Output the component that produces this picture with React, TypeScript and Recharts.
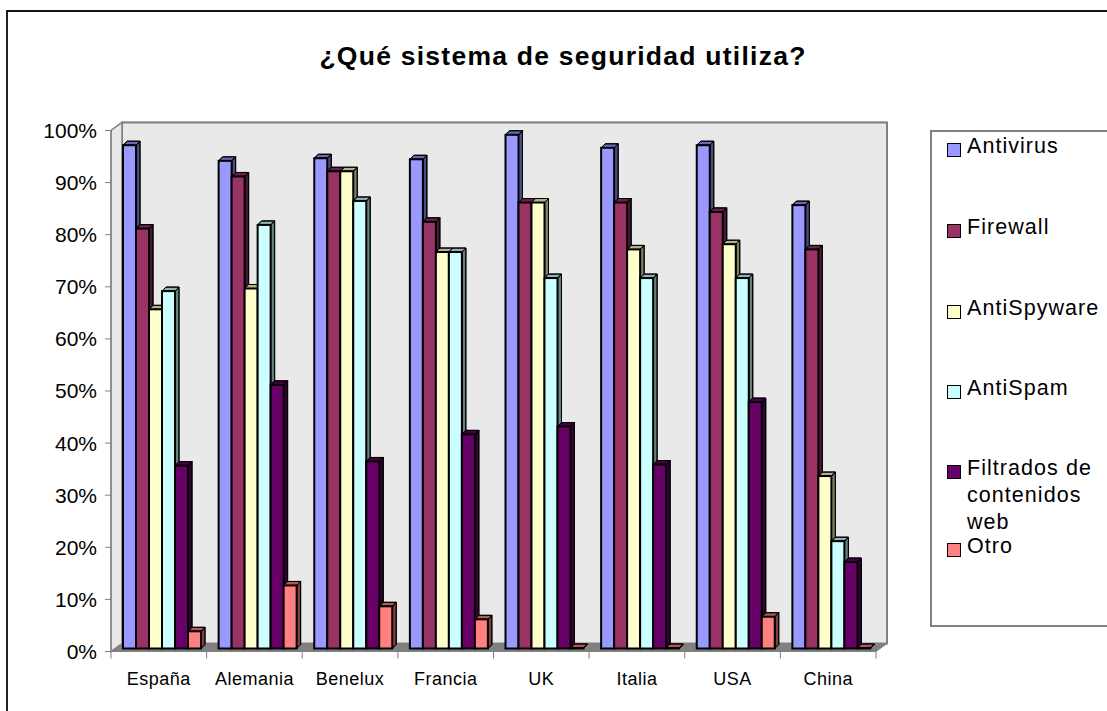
import { BarChart, Bar, XAxis, YAxis, CartesianGrid, ReferenceArea } from "recharts"

const categories = ["España", "Alemania", "Benelux", "Francia", "UK", "Italia", "USA", "China"]
const antivirus = [96.6, 93.6, 94.1, 93.9, 98.6, 96.1, 96.6, 85.1]
const firewall = [80.6, 90.6, 91.6, 81.9, 85.6, 85.6, 83.8, 76.6]
const antiSpyware = [65.1, 69.1, 91.6, 76.1, 85.6, 76.6, 77.6, 33.1]
const antiSpam = [68.6, 81.3, 85.9, 76.1, 71.1, 71.1, 71.1, 20.6]
const filtrados = [35.1, 50.6, 35.9, 41.1, 42.6, 35.3, 47.3, 16.6]
const otro = [3.3, 12.1, 8.1, 5.6, 0.1, 0.1, 6.1, 0.1]
const yTicks = [0, 10, 20, 30, 40, 50, 60, 70, 80, 90, 100]

const series = [
  { key: "antivirus", name: "Antivirus", color: "#9999FF", values: antivirus },
  { key: "firewall", name: "Firewall", color: "#993366", values: firewall },
  { key: "antiSpyware", name: "AntiSpyware", color: "#FFFFCC", values: antiSpyware },
  { key: "antiSpam", name: "AntiSpam", color: "#CCFFFF", values: antiSpam },
  { key: "filtrados", name: "Filtrados de contenidos web", color: "#660066", values: filtrados },
  { key: "otro", name: "Otro", color: "#FF8080", values: otro },
]

const rows = categories.map((name, i) => {
  const row: Record<string, string | number> = { name }
  series.forEach((s) => { row[s.key] = s.values[i] })
  return row
})

const FONT = "'Liberation Sans', Arial, sans-serif"
const WIDTH = 1107
const HEIGHT = 711
const PLOT_LEFT = 111
const PLOT_RIGHT = 876
const PLOT_TOP = 130.5
const PLOT_BOTTOM = 651.5
const BAND = (PLOT_RIGHT - PLOT_LEFT) / categories.length
const WALL_X = 11 // profundidad de la pared del fondo
const WALL_Y = 8
const CAP = 4 // profundidad de cada barra
const GRAY = "#808080"

// pared, lateral y suelo del falso 3D
function Walls(props: any) {
  const { x, y, width, height } = props
  const b = y + height
  const r = x + width
  return (
    <g>
      <rect x={x + WALL_X} y={y - WALL_Y} width={width} height={height} fill="#E9E9E9" stroke={GRAY} strokeWidth={2} />
      <polygon points={`${x},${y} ${x + WALL_X},${y - WALL_Y} ${x + WALL_X},${b - WALL_Y} ${x},${b}`} fill="#E9E9E9" stroke={GRAY} strokeWidth={1.5} />
      <polygon points={`${x},${b} ${x + WALL_X},${b - WALL_Y} ${r + WALL_X},${b - WALL_Y} ${r},${b}`} fill={GRAY} stroke={GRAY} />
    </g>
  )
}

function GridLine(props: any) {
  const { x1, x2, y1, y2 } = props
  if (y1 >= PLOT_BOTTOM - 1) return <g />
  return (
    <g stroke={GRAY} strokeWidth={1.3}>
      <line x1={x1} y1={y1} x2={x1 + WALL_X} y2={y1 - WALL_Y} />
      <line x1={x1 + WALL_X} y1={y2 - WALL_Y} x2={x2 + WALL_X} y2={y2 - WALL_Y} />
    </g>
  )
}

function Bar3D(props: any) {
  const { x, y, width, height, fill } = props
  const X = x + 3.5
  const Y = y - 3
  const r = X + width
  const b = Y + height
  const side = `${r},${Y} ${r + CAP},${Y - CAP} ${r + CAP},${b - CAP} ${r},${b}`
  const top = `${X},${Y} ${X + CAP},${Y - CAP} ${r + CAP},${Y - CAP} ${r},${Y}`
  return (
    <g stroke="#000" strokeLinejoin="miter">
      <polygon points={side} fill={fill} strokeWidth={1} />
      <polygon points={side} fill="#000" fillOpacity={0.5} strokeWidth={1} />
      <polygon points={top} fill={fill} strokeWidth={1} />
      <polygon points={top} fill="#000" fillOpacity={0.3} strokeWidth={1} />
      <rect x={X} y={Y} width={width} height={height} fill={fill} strokeWidth={2} />
    </g>
  )
}

// las marcas van entre categorías, no en el centro
function CategoryTick(props: any) {
  const { x, payload, index } = props
  const left = x - BAND / 2
  return (
    <g>
      <line x1={left} y1={PLOT_BOTTOM} x2={left} y2={PLOT_BOTTOM + 7} stroke={GRAY} />
      {index === categories.length - 1 && (
        <line x1={left + BAND} y1={PLOT_BOTTOM} x2={left + BAND} y2={PLOT_BOTTOM + 7} stroke={GRAY} />
      )}
      <text x={x} y={PLOT_BOTTOM + 33} textAnchor="middle" fontFamily={FONT} fontSize={18} fill="#000" letterSpacing={0.5}>
        {payload.value}
      </text>
    </g>
  )
}

const legendTops = [132, 213, 294, 374, 454, 532]
const legendLines: Record<string, string[]> = {
  "Filtrados de contenidos web": ["Filtrados de", "contenidos", "web"],
}

function LegendBox() {
  return (
    <div style={{ position: "absolute", left: 930, top: 130, width: 190, height: 497, border: `2px solid ${GRAY}`, borderRight: "none", boxSizing: "border-box", background: "#fff", fontFamily: FONT, fontSize: 21.5, letterSpacing: 1.05, color: "#000" }}>
      {series.map((s, i) => (
        <div key={s.key} style={{ position: "absolute", left: 15, top: legendTops[i] - 131, display: "flex", alignItems: "flex-start" }}>
          <span style={{ width: 12, height: 12, marginTop: 10, marginRight: 6, border: "1.5px solid #000", background: s.color, boxSizing: "content-box", flex: "none" }} />
          <span style={{ lineHeight: "27px" }}>
            {(legendLines[s.name] ?? [s.name]).map((l) => <div key={l}>{l}</div>)}
          </span>
        </div>
      ))}
    </div>
  )
}

export default function App() {
  return (
    <div style={{ position: "absolute", left: 0, top: 0, width: WIDTH, height: HEIGHT, background: "#fff", overflow: "hidden" }}>
      <div style={{ position: "absolute", left: 6, top: 10, width: WIDTH, height: HEIGHT, borderLeft: "2px solid #222", borderTop: "2px solid #111" }} />
      <div style={{ position: "absolute", left: 0, width: 1126, top: 41, textAlign: "center", fontFamily: FONT, fontWeight: "bold", fontSize: 26.5, letterSpacing: 1.25, color: "#000" }}>
        ¿Qué sistema de seguridad utiliza?
      </div>
      <BarChart
        width={WIDTH}
        height={HEIGHT}
        data={rows}
        margin={{ top: PLOT_TOP, right: WIDTH - PLOT_RIGHT, bottom: 0, left: 0 }}
        barCategoryGap={8.5}
        barGap={0}
        style={{ position: "absolute", left: 0, top: 0 }}
      >
        <ReferenceArea y1={0} y2={100} ifOverflow="visible" shape={Walls} />
        <CartesianGrid vertical={false} horizontal={GridLine} />
        <XAxis dataKey="name" height={HEIGHT - PLOT_BOTTOM} interval={0} stroke={GRAY} tickLine={false} tick={CategoryTick} />
        <YAxis
          width={PLOT_LEFT}
          domain={[0, 100]}
          ticks={yTicks}
          interval={0}
          stroke={GRAY}
          tickSize={6}
          tickMargin={8}
          tickFormatter={(v: number) => `${v}%`}
          tick={{ fill: "#000", fontFamily: FONT, fontSize: 21 }}
        />
        {series.map((s) => (
          <Bar key={s.key} dataKey={s.key} name={s.name} fill={s.color} shape={Bar3D} isAnimationActive={false} />
        ))}
      </BarChart>
      <LegendBox />
    </div>
  )
}
